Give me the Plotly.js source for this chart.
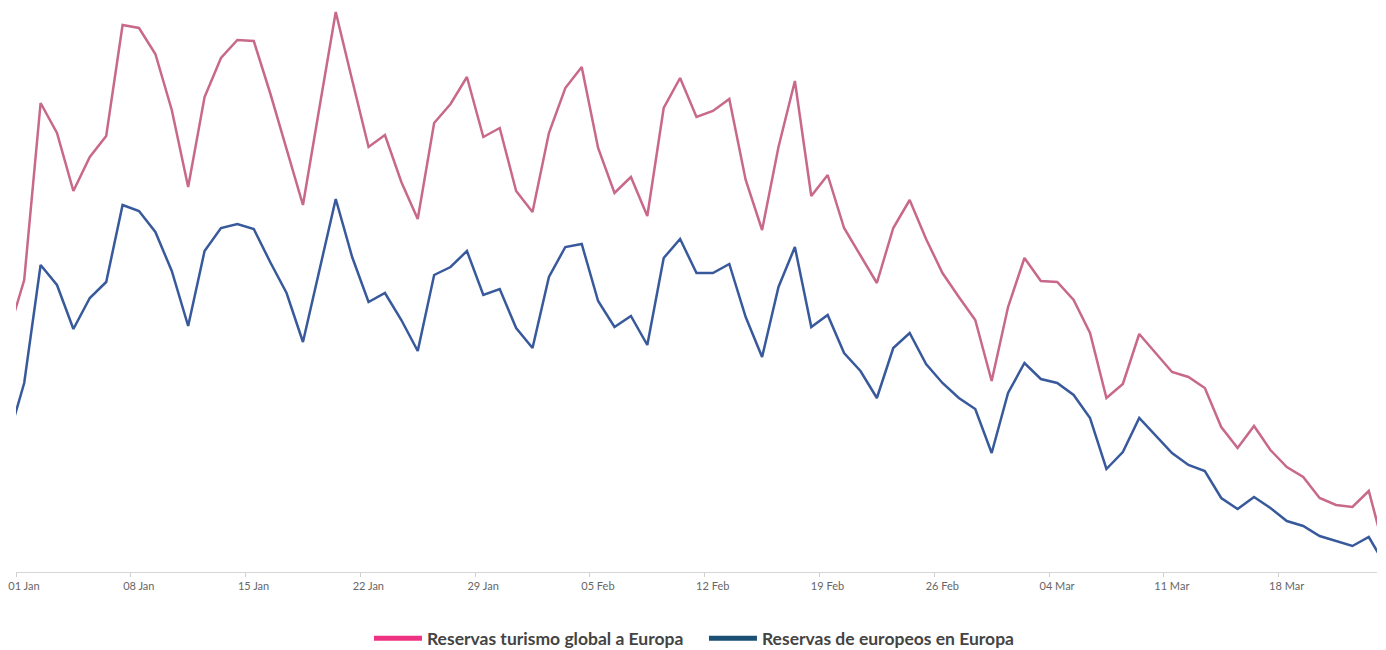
<!DOCTYPE html>
<html>
<head>
<meta charset="utf-8">
<script src="https://cdn.plot.ly/plotly-3.0.1.min.js"></script>
<style>
html,body{margin:0;padding:0;background:#fff;}
#chart{width:1386px;height:650px;}
</style>
</head>
<body>
<div id="chart"></div>
<script>
// Daily series, 31 Dec 2019 .. 24 Mar 2020 (first and last days partly outside the visible range)
const startDate = '2019-12-31';
const seriesNames = ['Reservas turismo global a Europa', 'Reservas de europeos en Europa'];
const globalTourism = [
  237,
  292,469,439,381,415,436,547,544,518,462,385,475,514,532,531,479,424,367,464,560,
  492,425,437,390,353,449,468,495,435,444,381,360,439,484,505,424,379,395,356,464,
  494,455,461,473,392,342,425,491,376,397,344,317,289,344,372,333,299,275,252,191,
  265,314,291,290,272,239,174,188,238,219,200,195,184,145,124,146,122,105,95,74,
  67,65,81,
  19
];
const europeans = [
  132,
  189,307,287,243,274,290,367,361,340,301,246,321,344,348,343,310,279,230,302,373,
  315,270,279,252,221,297,305,321,277,283,244,224,295,325,328,271,245,256,227,314,
  333,299,299,308,255,215,285,325,245,257,219,201,174,224,239,208,189,174,163,119,
  179,209,193,189,177,154,103,120,154,136,119,107,101,74,63,75,64,51,46,36,
  31,26,35,
  7
];
const tickDates = ['2020-01-01','2020-01-08','2020-01-15','2020-01-22','2020-01-29','2020-02-05',
  '2020-02-12','2020-02-19','2020-02-26','2020-03-04','2020-03-11','2020-03-18'];
const tickLabels = ['01 Jan','08 Jan','15 Jan','22 Jan','29 Jan','05 Feb',
  '12 Feb','19 Feb','26 Feb','04 Mar','11 Mar','18 Mar'];

const lineColors = ['#c8688b', '#38599b'];
const legendColors = ['#ee3282', '#1b4f74'];

function dayStamp(i) {
  const d = new Date(startDate + 'T12:00:00Z');
  d.setUTCDate(d.getUTCDate() + i);
  return d.toISOString().slice(0, 10) + ' 12:00';
}
const dates = globalTourism.map((_, i) => dayStamp(i));

const traces = [
  {x: dates, y: globalTourism, type: 'scatter', mode: 'lines', name: seriesNames[0],
   line: {color: lineColors[0], width: 2.5}, showlegend: false, hoverinfo: 'x+y'},
  {x: dates, y: europeans, type: 'scatter', mode: 'lines', name: seriesNames[1],
   line: {color: lineColors[1], width: 2.5}, showlegend: false, hoverinfo: 'x+y'},
  {x: [null], y: [null], type: 'scatter', mode: 'lines', name: seriesNames[0],
   line: {color: legendColors[0], width: 5}, showlegend: true},
  {x: [null], y: [null], type: 'scatter', mode: 'lines', name: seriesNames[1],
   line: {color: legendColors[1], width: 5}, showlegend: true}
];

const layout = {
  width: 1386, height: 650,
  margin: {l: 16, r: 9, t: 0, b: 78},
  paper_bgcolor: '#ffffff', plot_bgcolor: '#ffffff',
  font: {family: 'Lato, "Open Sans", sans-serif', color: '#555'},
  xaxis: {
    type: 'date',
    range: ['2020-01-01', '2020-03-24'],
    tickmode: 'array', tickvals: tickDates, ticktext: tickLabels,
    ticks: 'outside', ticklen: 4, tickcolor: '#cfcfcf', tickwidth: 1,
    ticklabelshift: 8,
    showline: true, linecolor: '#d6d6d6', linewidth: 1,
    showgrid: false, zeroline: false, automargin: false,
    tickfont: {family: 'Lato, sans-serif', size: 11, color: '#666'}
  },
  yaxis: {
    range: [0, 572], automargin: false,
    showticklabels: false, showgrid: false, zeroline: false, showline: false, ticks: ''
  },
  showlegend: true,
  legend: {
    orientation: 'h',
    xref: 'container', x: 0.2662, xanchor: 'left',
    yref: 'container', y: 0.018, yanchor: 'middle',
    font: {family: 'Lato, sans-serif', size: 17.5, color: '#444', weight: 700},
    itemwidth: 48, entrywidth: 272, entrywidthmode: 'pixels', traceorder: 'normal'
  }
};

Plotly.newPlot('chart', traces, layout, {displayModeBar: false, staticPlot: true});
</script>
</body>
</html>
